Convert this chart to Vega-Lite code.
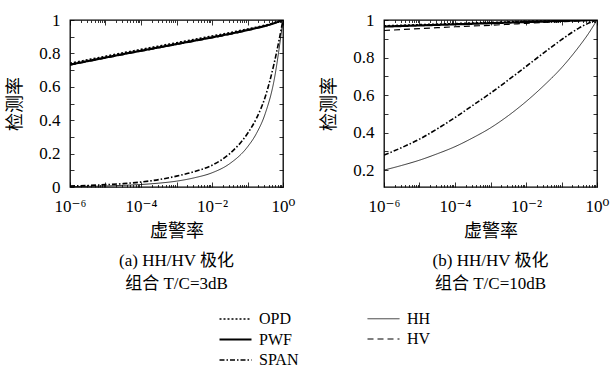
{
"$schema": "https://vega.github.io/schema/vega-lite/v6.json",
"autosize": {"type": "pad"},
"padding": {"left": 6, "top": 10, "right": 5, "bottom": 0},
"background": "white",
"bounds": "flush",
"spacing": 101,
"config": {
  "view": {"stroke": "black", "strokeWidth": 1.3},
  "font": "Liberation Serif",
  "axis": {"grid": false, "domain": false, "tickColor": "black", "labelColor": "black", "titleColor": "black", "labelFont": "Liberation Serif, DejaVu Serif", "labelFontSize": 17, "titleFont": "Liberation Serif, Noto Sans CJK SC", "titleFontSize": 18, "titleFontWeight": "normal", "labelOverlap": false, "labelFlush": false, "tickWidth": 0.8},
  "title": {"font": "Liberation Serif, Noto Sans CJK SC", "fontSize": 17, "fontWeight": "normal", "color": "black", "lineHeight": 23, "anchor": "middle"},
  "legend": {"labelFont": "Liberation Serif", "labelFontSize": 16, "labelColor": "black"}
},
"resolve": {"scale": {"strokeDash": "shared", "strokeWidth": "shared"}},
"datasets": {
  "a": [
    {"series":"OPD","pfa":1e-6,"pd":0.741},{"series":"OPD","pfa":3.162e-6,"pd":0.762},{"series":"OPD","pfa":1e-5,"pd":0.783},{"series":"OPD","pfa":3.162e-5,"pd":0.804},{"series":"OPD","pfa":1e-4,"pd":0.824},{"series":"OPD","pfa":3.162e-4,"pd":0.844},{"series":"OPD","pfa":1e-3,"pd":0.864},{"series":"OPD","pfa":3.162e-3,"pd":0.884},{"series":"OPD","pfa":1e-2,"pd":0.904},{"series":"OPD","pfa":3.162e-2,"pd":0.924},{"series":"OPD","pfa":0.1,"pd":0.946},{"series":"OPD","pfa":0.1778,"pd":0.957},{"series":"OPD","pfa":0.3162,"pd":0.969},{"series":"OPD","pfa":0.5623,"pd":0.983},{"series":"OPD","pfa":1,"pd":1},
    {"series":"PWF","pfa":1e-6,"pd":0.733},{"series":"PWF","pfa":3.162e-6,"pd":0.754},{"series":"PWF","pfa":1e-5,"pd":0.775},{"series":"PWF","pfa":3.162e-5,"pd":0.796},{"series":"PWF","pfa":1e-4,"pd":0.816},{"series":"PWF","pfa":3.162e-4,"pd":0.836},{"series":"PWF","pfa":1e-3,"pd":0.856},{"series":"PWF","pfa":3.162e-3,"pd":0.876},{"series":"PWF","pfa":1e-2,"pd":0.896},{"series":"PWF","pfa":3.162e-2,"pd":0.917},{"series":"PWF","pfa":0.1,"pd":0.94},{"series":"PWF","pfa":0.1778,"pd":0.952},{"series":"PWF","pfa":0.3162,"pd":0.965},{"series":"PWF","pfa":0.5623,"pd":0.981},{"series":"PWF","pfa":1,"pd":1},
    {"series":"HV","pfa":1e-6,"pd":0.73},{"series":"HV","pfa":3.162e-6,"pd":0.751},{"series":"HV","pfa":1e-5,"pd":0.772},{"series":"HV","pfa":3.162e-5,"pd":0.793},{"series":"HV","pfa":1e-4,"pd":0.813},{"series":"HV","pfa":3.162e-4,"pd":0.833},{"series":"HV","pfa":1e-3,"pd":0.853},{"series":"HV","pfa":3.162e-3,"pd":0.873},{"series":"HV","pfa":1e-2,"pd":0.893},{"series":"HV","pfa":3.162e-2,"pd":0.914},{"series":"HV","pfa":0.1,"pd":0.937},{"series":"HV","pfa":0.1778,"pd":0.95},{"series":"HV","pfa":0.3162,"pd":0.963},{"series":"HV","pfa":0.5623,"pd":0.98},{"series":"HV","pfa":1,"pd":1},
    {"series":"SPAN","pfa":1e-6,"pd":0.006},{"series":"SPAN","pfa":3.162e-6,"pd":0.009},{"series":"SPAN","pfa":1e-5,"pd":0.014},{"series":"SPAN","pfa":3.162e-5,"pd":0.02},{"series":"SPAN","pfa":1e-4,"pd":0.03},{"series":"SPAN","pfa":3.162e-4,"pd":0.044},{"series":"SPAN","pfa":1e-3,"pd":0.065},{"series":"SPAN","pfa":3.162e-3,"pd":0.092},{"series":"SPAN","pfa":1e-2,"pd":0.13},{"series":"SPAN","pfa":3.162e-2,"pd":0.2},{"series":"SPAN","pfa":0.1,"pd":0.32},{"series":"SPAN","pfa":0.1778,"pd":0.41},{"series":"SPAN","pfa":0.3162,"pd":0.54},{"series":"SPAN","pfa":0.5623,"pd":0.74},{"series":"SPAN","pfa":1,"pd":1},
    {"series":"HH","pfa":1e-6,"pd":0.002},{"series":"HH","pfa":3.162e-6,"pd":0.004},{"series":"HH","pfa":1e-5,"pd":0.006},{"series":"HH","pfa":3.162e-5,"pd":0.01},{"series":"HH","pfa":1e-4,"pd":0.015},{"series":"HH","pfa":3.162e-4,"pd":0.023},{"series":"HH","pfa":1e-3,"pd":0.035},{"series":"HH","pfa":3.162e-3,"pd":0.055},{"series":"HH","pfa":1e-2,"pd":0.085},{"series":"HH","pfa":3.162e-2,"pd":0.14},{"series":"HH","pfa":0.1,"pd":0.24},{"series":"HH","pfa":0.1778,"pd":0.32},{"series":"HH","pfa":0.3162,"pd":0.44},{"series":"HH","pfa":0.5623,"pd":0.64},{"series":"HH","pfa":1,"pd":1}
  ],
  "b": [
    {"series":"OPD","pfa":1e-6,"pd":0.969},{"series":"OPD","pfa":3.162e-6,"pd":0.972},{"series":"OPD","pfa":1e-5,"pd":0.975},{"series":"OPD","pfa":3.162e-5,"pd":0.978},{"series":"OPD","pfa":1e-4,"pd":0.981},{"series":"OPD","pfa":3.162e-4,"pd":0.984},{"series":"OPD","pfa":1e-3,"pd":0.987},{"series":"OPD","pfa":3.162e-3,"pd":0.99},{"series":"OPD","pfa":1e-2,"pd":0.993},{"series":"OPD","pfa":3.162e-2,"pd":0.995},{"series":"OPD","pfa":0.1,"pd":0.997},{"series":"OPD","pfa":0.1778,"pd":0.998},{"series":"OPD","pfa":0.3162,"pd":0.999},{"series":"OPD","pfa":0.5623,"pd":1},{"series":"OPD","pfa":1,"pd":1},
    {"series":"PWF","pfa":1e-6,"pd":0.965},{"series":"PWF","pfa":3.162e-6,"pd":0.968},{"series":"PWF","pfa":1e-5,"pd":0.971},{"series":"PWF","pfa":3.162e-5,"pd":0.974},{"series":"PWF","pfa":1e-4,"pd":0.977},{"series":"PWF","pfa":3.162e-4,"pd":0.98},{"series":"PWF","pfa":1e-3,"pd":0.983},{"series":"PWF","pfa":3.162e-3,"pd":0.986},{"series":"PWF","pfa":1e-2,"pd":0.989},{"series":"PWF","pfa":3.162e-2,"pd":0.992},{"series":"PWF","pfa":0.1,"pd":0.995},{"series":"PWF","pfa":0.1778,"pd":0.996},{"series":"PWF","pfa":0.3162,"pd":0.997},{"series":"PWF","pfa":0.5623,"pd":0.999},{"series":"PWF","pfa":1,"pd":1},
    {"series":"HV","pfa":1e-6,"pd":0.944},{"series":"HV","pfa":3.162e-6,"pd":0.949},{"series":"HV","pfa":1e-5,"pd":0.954},{"series":"HV","pfa":3.162e-5,"pd":0.959},{"series":"HV","pfa":1e-4,"pd":0.964},{"series":"HV","pfa":3.162e-4,"pd":0.968},{"series":"HV","pfa":1e-3,"pd":0.972},{"series":"HV","pfa":3.162e-3,"pd":0.977},{"series":"HV","pfa":1e-2,"pd":0.982},{"series":"HV","pfa":3.162e-2,"pd":0.987},{"series":"HV","pfa":0.1,"pd":0.991},{"series":"HV","pfa":0.1778,"pd":0.993},{"series":"HV","pfa":0.3162,"pd":0.996},{"series":"HV","pfa":0.5623,"pd":0.998},{"series":"HV","pfa":1,"pd":1},
    {"series":"SPAN","pfa":1e-6,"pd":0.28},{"series":"SPAN","pfa":3.162e-6,"pd":0.32},{"series":"SPAN","pfa":1e-5,"pd":0.365},{"series":"SPAN","pfa":3.162e-5,"pd":0.42},{"series":"SPAN","pfa":1e-4,"pd":0.48},{"series":"SPAN","pfa":3.162e-4,"pd":0.545},{"series":"SPAN","pfa":1e-3,"pd":0.61},{"series":"SPAN","pfa":3.162e-3,"pd":0.68},{"series":"SPAN","pfa":1e-2,"pd":0.752},{"series":"SPAN","pfa":3.162e-2,"pd":0.825},{"series":"SPAN","pfa":0.1,"pd":0.895},{"series":"SPAN","pfa":0.1778,"pd":0.928},{"series":"SPAN","pfa":0.3162,"pd":0.958},{"series":"SPAN","pfa":0.5623,"pd":0.982},{"series":"SPAN","pfa":1,"pd":1},
    {"series":"HH","pfa":1e-6,"pd":0.2},{"series":"HH","pfa":3.162e-6,"pd":0.225},{"series":"HH","pfa":1e-5,"pd":0.253},{"series":"HH","pfa":3.162e-5,"pd":0.287},{"series":"HH","pfa":1e-4,"pd":0.325},{"series":"HH","pfa":3.162e-4,"pd":0.372},{"series":"HH","pfa":1e-3,"pd":0.425},{"series":"HH","pfa":3.162e-3,"pd":0.49},{"series":"HH","pfa":1e-2,"pd":0.565},{"series":"HH","pfa":3.162e-2,"pd":0.65},{"series":"HH","pfa":0.1,"pd":0.745},{"series":"HH","pfa":0.1778,"pd":0.8},{"series":"HH","pfa":0.3162,"pd":0.86},{"series":"HH","pfa":0.5623,"pd":0.925},{"series":"HH","pfa":1,"pd":1}
  ]
},
"hconcat": [
  {
    "width": 213, "height": 167,
    "data": {"name": "a"},
    "title": {"text": ["(a) HH/HV 极化", "组合 T/C=3dB"], "orient": "bottom", "offset": 12},
    "layer": [
      {
        "mark": {"type": "line", "interpolate": "monotone", "color": "black", "clip": true},
        "encoding": {
          "x": {"field": "pfa", "type": "quantitative", "scale": {"type": "log", "domain": [1e-6, 1]},
            "axis": {"orient": "bottom", "title": "虚警率", "titlePadding": 6,
              "values": [1e-6,2e-6,3e-6,4e-6,5e-6,6e-6,7e-6,8e-6,9e-6,1e-5,2e-5,3e-5,4e-5,5e-5,6e-5,7e-5,8e-5,9e-5,1e-4,2e-4,3e-4,4e-4,5e-4,6e-4,7e-4,8e-4,9e-4,1e-3,2e-3,3e-3,4e-3,5e-3,6e-3,7e-3,8e-3,9e-3,1e-2,2e-2,3e-2,4e-2,5e-2,6e-2,7e-2,8e-2,9e-2,0.1,0.2,0.3,0.4,0.5,0.6,0.7,0.8,0.9,1],
              "labelExpr": "abs(log(datum.value)/LN10 - round(log(datum.value)/LN10)) < 0.01 ? (round(log(datum.value)/LN10) == -6 ? '10⁻⁶' : round(log(datum.value)/LN10) == -4 ? '10⁻⁴' : round(log(datum.value)/LN10) == -2 ? '10⁻²' : round(log(datum.value)/LN10) == 0 ? '10⁰' : '') : ''",
              "tickSize": {"condition": {"test": "abs(log(datum.value)/LN10 - round(log(datum.value)/LN10)) < 0.01", "value": -5}, "value": -2.5},
              "labelPadding": 16}},
          "y": {"field": "pd", "type": "quantitative", "scale": {"domain": [0, 1]},
            "axis": {"orient": "left", "title": "检测率", "titlePadding": 14,
              "values": [0,0.1,0.2,0.3,0.4,0.5,0.6,0.7,0.8,0.9,1],
              "labelExpr": "abs(datum.value*5 - round(datum.value*5)) < 0.001 ? format(datum.value, '~g') : ''",
              "tickSize": -4, "labelPadding": 14}},
          "strokeDash": {"field": "series", "type": "nominal",
            "scale": {"domain": ["OPD","PWF","SPAN","HH","HV"], "range": [[2,2],[1,0],[5,2,1.5,2],[1,0],[6,4]]},
            "legend": {"title": null, "orient": "none", "legendX": 154, "legendY": 288, "columns": 2, "columnPadding": 66, "rowPadding": 1, "symbolType": "M-1.6,0H1.6", "symbolSize": 400, "symbolStrokeColor": "black", "labelOffset": 12}},
          "strokeWidth": {"field": "series", "type": "ordinal",
            "scale": {"type": "ordinal", "domain": ["OPD","PWF","SPAN","HH","HV"], "range": [1.6, 2.2, 1.6, 0.8, 1.2]},
            "legend": {"title": null, "orient": "none", "legendX": 154, "legendY": 288, "columns": 2, "columnPadding": 66, "rowPadding": 1, "symbolType": "M-1.6,0H1.6", "symbolSize": 400, "symbolStrokeColor": "black", "labelOffset": 12}}
        }
      },
      {
        "mark": {"type": "line", "opacity": 0},
        "encoding": {
          "x": {"field": "pfa", "type": "quantitative", "scale": {"type": "log", "domain": [1e-6, 1]},
            "axis": {"orient": "top", "title": null, "labels": false,
              "values": [1e-6,2e-6,3e-6,4e-6,5e-6,6e-6,7e-6,8e-6,9e-6,1e-5,2e-5,3e-5,4e-5,5e-5,6e-5,7e-5,8e-5,9e-5,1e-4,2e-4,3e-4,4e-4,5e-4,6e-4,7e-4,8e-4,9e-4,1e-3,2e-3,3e-3,4e-3,5e-3,6e-3,7e-3,8e-3,9e-3,1e-2,2e-2,3e-2,4e-2,5e-2,6e-2,7e-2,8e-2,9e-2,0.1,0.2,0.3,0.4,0.5,0.6,0.7,0.8,0.9,1],
              "tickSize": {"condition": {"test": "abs(log(datum.value)/LN10 - round(log(datum.value)/LN10)) < 0.01", "value": -5}, "value": -2.5}}},
          "y": {"field": "pd", "type": "quantitative", "scale": {"domain": [0, 1]},
            "axis": {"orient": "right", "title": null, "labels": false, "values": [0,0.1,0.2,0.3,0.4,0.5,0.6,0.7,0.8,0.9,1], "tickSize": -4}}
        }
      }
    ],
    "resolve": {"axis": {"x": "independent", "y": "independent"}}
  },
  {
    "width": 213, "height": 167,
    "data": {"name": "b"},
    "title": {"text": ["(b) HH/HV 极化", "组合 T/C=10dB"], "orient": "bottom", "offset": 12},
    "layer": [
      {
        "mark": {"type": "line", "interpolate": "monotone", "color": "black", "clip": true},
        "encoding": {
          "x": {"field": "pfa", "type": "quantitative", "scale": {"type": "log", "domain": [1e-6, 1]},
            "axis": {"orient": "bottom", "title": "虚警率", "titlePadding": 6,
              "values": [1e-6,2e-6,3e-6,4e-6,5e-6,6e-6,7e-6,8e-6,9e-6,1e-5,2e-5,3e-5,4e-5,5e-5,6e-5,7e-5,8e-5,9e-5,1e-4,2e-4,3e-4,4e-4,5e-4,6e-4,7e-4,8e-4,9e-4,1e-3,2e-3,3e-3,4e-3,5e-3,6e-3,7e-3,8e-3,9e-3,1e-2,2e-2,3e-2,4e-2,5e-2,6e-2,7e-2,8e-2,9e-2,0.1,0.2,0.3,0.4,0.5,0.6,0.7,0.8,0.9,1],
              "labelExpr": "abs(log(datum.value)/LN10 - round(log(datum.value)/LN10)) < 0.01 ? (round(log(datum.value)/LN10) == -6 ? '10⁻⁶' : round(log(datum.value)/LN10) == -4 ? '10⁻⁴' : round(log(datum.value)/LN10) == -2 ? '10⁻²' : round(log(datum.value)/LN10) == 0 ? '10⁰' : '') : ''",
              "tickSize": {"condition": {"test": "abs(log(datum.value)/LN10 - round(log(datum.value)/LN10)) < 0.01", "value": -5}, "value": -2.5},
              "labelPadding": 16}},
          "y": {"field": "pd", "type": "quantitative", "scale": {"domain": [0.11, 1]},
            "axis": {"orient": "left", "title": "检测率", "titlePadding": 14,
              "values": [0.2,0.3,0.4,0.5,0.6,0.7,0.8,0.9,1],
              "labelExpr": "abs(datum.value*5 - round(datum.value*5)) < 0.001 ? format(datum.value, '~g') : ''",
              "tickSize": -4, "labelPadding": 14}},
          "strokeDash": {"field": "series", "type": "nominal",
            "scale": {"domain": ["OPD","PWF","SPAN","HH","HV"], "range": [[2,2],[1,0],[5,2,1.5,2],[1,0],[6,4]]},
            "legend": {"title": null, "orient": "none", "legendX": 154, "legendY": 288, "columns": 2, "columnPadding": 66, "rowPadding": 1, "symbolType": "M-1.6,0H1.6", "symbolSize": 400, "symbolStrokeColor": "black", "labelOffset": 12}},
          "strokeWidth": {"field": "series", "type": "ordinal",
            "scale": {"type": "ordinal", "domain": ["OPD","PWF","SPAN","HH","HV"], "range": [1.6, 2.2, 1.6, 0.8, 1.2]},
            "legend": {"title": null, "orient": "none", "legendX": 154, "legendY": 288, "columns": 2, "columnPadding": 66, "rowPadding": 1, "symbolType": "M-1.6,0H1.6", "symbolSize": 400, "symbolStrokeColor": "black", "labelOffset": 12}}
        }
      },
      {
        "mark": {"type": "line", "opacity": 0},
        "encoding": {
          "x": {"field": "pfa", "type": "quantitative", "scale": {"type": "log", "domain": [1e-6, 1]},
            "axis": {"orient": "top", "title": null, "labels": false,
              "values": [1e-6,2e-6,3e-6,4e-6,5e-6,6e-6,7e-6,8e-6,9e-6,1e-5,2e-5,3e-5,4e-5,5e-5,6e-5,7e-5,8e-5,9e-5,1e-4,2e-4,3e-4,4e-4,5e-4,6e-4,7e-4,8e-4,9e-4,1e-3,2e-3,3e-3,4e-3,5e-3,6e-3,7e-3,8e-3,9e-3,1e-2,2e-2,3e-2,4e-2,5e-2,6e-2,7e-2,8e-2,9e-2,0.1,0.2,0.3,0.4,0.5,0.6,0.7,0.8,0.9,1],
              "tickSize": {"condition": {"test": "abs(log(datum.value)/LN10 - round(log(datum.value)/LN10)) < 0.01", "value": -5}, "value": -2.5}}},
          "y": {"field": "pd", "type": "quantitative", "scale": {"domain": [0.11, 1]},
            "axis": {"orient": "right", "title": null, "labels": false, "values": [0.2,0.3,0.4,0.5,0.6,0.7,0.8,0.9,1], "tickSize": -4}}
        }
      }
    ],
    "resolve": {"axis": {"x": "independent", "y": "independent"}}
  }
]
}
